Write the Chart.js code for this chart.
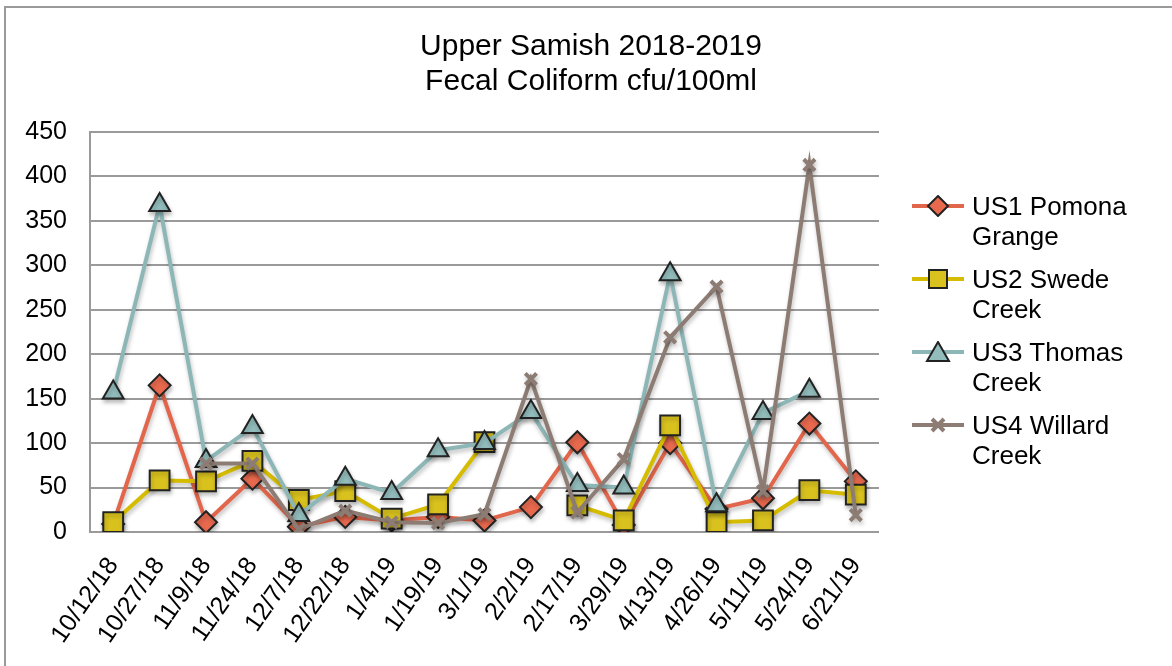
<!DOCTYPE html>
<html>
<head>
<meta charset="utf-8">
<script src="https://cdn.jsdelivr.net/npm/chart.js@4.4.1/dist/chart.umd.min.js"></script>
<style>
  html, body { margin: 0; padding: 0; background: #fff; }
  #wrap { position: relative; width: 1172px; height: 666px; overflow: hidden; font-family: "Liberation Sans", Arial, sans-serif; }
  #frame { position: absolute; left: 4px; top: 6px; width: 1200px; height: 700px; border: 2px solid #9a9a9a; box-sizing: border-box; }
  #title { position: absolute; left: 0; width: 1182px; top: 27px; text-align: center; font-size: 30px; line-height: 35px; color: #000; }
  #legend { position: absolute; left: 910px; top: 191px; }
  .item { position: relative; height: 73px; }
  .item svg { position: absolute; left: 0; top: 4px; }
  .item div { position: absolute; left: 62px; top: 0; font-size: 26px; line-height: 30px; color: #000; white-space: nowrap; }
  canvas { position: absolute; left: 0; top: 0; }
</style>
</head>
<body>
<div id="wrap">
  <div id="frame"></div>
  <canvas id="chart" width="1172" height="666"></canvas>
  <div id="title">Upper Samish 2018-2019<br>Fecal Coliform cfu/100ml</div>
  <div id="legend"></div>
</div>
<script>
var dates = ['10/12/18', '10/27/18', '11/9/18', '11/24/18', '12/7/18', '12/22/18', '1/4/19', '1/19/19',
    '3/1/19', '2/2/19', '2/17/19', '3/29/19', '4/13/19', '4/26/19', '5/11/19', '5/24/19', '6/21/19'];

var us1Pomona = [9, 165, 11, 60, 6, 17, 13, 17, 13, 28, 101, 8, 100, 26, 38, 122, 57];
var us2Swede = [11, 58, 57, 80, 36, 46, 15, 31, 101, null, 30, 13, 120, 11, 13, 47, 42];
var us3Thomas = [157, 368, 80, 118, 19, 60, 44, 92, 100, 135, 53, 50, 290, 30, 134, 159, null];
var us4Willard = [null, null, 77, 77, 3, 24, 11, 10, 20, 172, 22, 82, 219, 276, 46, 413, 19];

var seriesNames = [['US1 Pomona', 'Grange'], ['US2 Swede', 'Creek'], ['US3 Thomas', 'Creek'], ['US4 Willard', 'Creek']];
var yTicks = [0, 50, 100, 150, 200, 250, 300, 350, 400, 450];

var series = [
    { data: us1Pomona, line: '#E2664B', fill: '#E8694E', style: 'rectRot', radius: 11, edge: '#222', order: 4 },
    { data: us2Swede, line: '#D6BC00', fill: '#D9C21E', style: 'rect', radius: 14, edge: '#222', order: 3 },
    { data: us3Thomas, line: '#8DB6B6', fill: '#93BDBD', style: 'triangle', radius: 12, edge: '#222', order: 2 },
    { data: us4Willard, line: '#8C7C73', fill: '#8C7C73', style: 'crossRot', radius: 8, edge: '#8C7C73', order: 1 }
];

var datasets = series.map(function (s, i) {
    return {
        label: seriesNames[i].join(' '),
        data: s.data,
        borderColor: s.line,
        backgroundColor: s.fill,
        borderWidth: 4,
        pointStyle: s.style,
        pointRadius: s.radius,
        pointBorderColor: s.edge,
        pointBackgroundColor: s.fill,
        pointBorderWidth: s.style === 'crossRot' ? 4 : 2,
        spanGaps: false,
        tension: 0,
        order: s.order
    };
});

var shadowPlugin = {
    id: 'markerShadow',
    beforeDatasetsDraw: function (chart) {
        var ctx = chart.ctx;
        ctx.save();
        ctx.shadowColor = 'rgba(0,0,0,0.25)';
        ctx.shadowBlur = 4;
        ctx.shadowOffsetX = 1;
        ctx.shadowOffsetY = 3;
    },
    afterDatasetsDraw: function (chart) {
        chart.ctx.restore();
    }
};

var ctx = document.getElementById('chart');
var myChart = new Chart(ctx, {
    type: 'line',
    data: { labels: dates, datasets: datasets },
    plugins: [shadowPlugin],
    options: {
        responsive: false,
        animation: false,
        layout: { padding: { left: 0, top: 132, right: 293, bottom: 0 } },
        plugins: { legend: { display: false }, title: { display: false }, tooltip: { enabled: false } },
        scales: {
            x: {
                offset: true,
                grid: { display: false },
                border: { display: false },
                afterFit: function (scale) { scale.height = 134; },
                ticks: {
                    color: '#000',
                    font: { family: '"Liberation Sans", Arial, sans-serif', size: 25 },
                    minRotation: 55,
                    maxRotation: 55,
                    autoSkip: false,
                    padding: 12
                }
            },
            y: {
                min: 0,
                max: 450,
                afterFit: function (scale) { scale.width = 90; },
                afterBuildTicks: function (scale) {
                    scale.ticks = yTicks.map(function (v) { return { value: v }; });
                },
                grid: { color: '#9a9a9a', lineWidth: 2, drawTicks: false },
                border: { display: true, color: '#9a9a9a', width: 2 },
                ticks: {
                    color: '#000',
                    font: { family: '"Liberation Sans", Arial, sans-serif', size: 25 },
                    padding: 23
                }
            }
        }
    }
});

// html legend with small svg markers
var markerSvg = function (s) {
    var m = '';
    if (s.style === 'rectRot') {
        m = '<polygon points="28,1 38,11 28,21 18,11" fill="' + s.fill + '" stroke="#222" stroke-width="2"/>';
    } else if (s.style === 'rect') {
        m = '<rect x="19" y="2" width="18" height="18" fill="' + s.fill + '" stroke="#222" stroke-width="2"/>';
    } else if (s.style === 'triangle') {
        m = '<polygon points="28,1 39,20 17,20" fill="' + s.fill + '" stroke="#222" stroke-width="2"/>';
    } else {
        m = '<path d="M22,5 L34,17 M34,5 L22,17" stroke="' + s.fill + '" stroke-width="4"/>';
    }
    return '<svg width="56" height="22"><line x1="2" y1="11" x2="54" y2="11" stroke="' + s.line + '" stroke-width="4"/>' + m + '</svg>';
};

var legendHtml = '';
for (var i = 0; i < series.length; ++i) {
    legendHtml += '<div class="item">' + markerSvg(series[i]) + '<div>' + seriesNames[i].join('<br>') + '</div></div>';
}
document.getElementById('legend').innerHTML = legendHtml;
</script>
</body>
</html>
